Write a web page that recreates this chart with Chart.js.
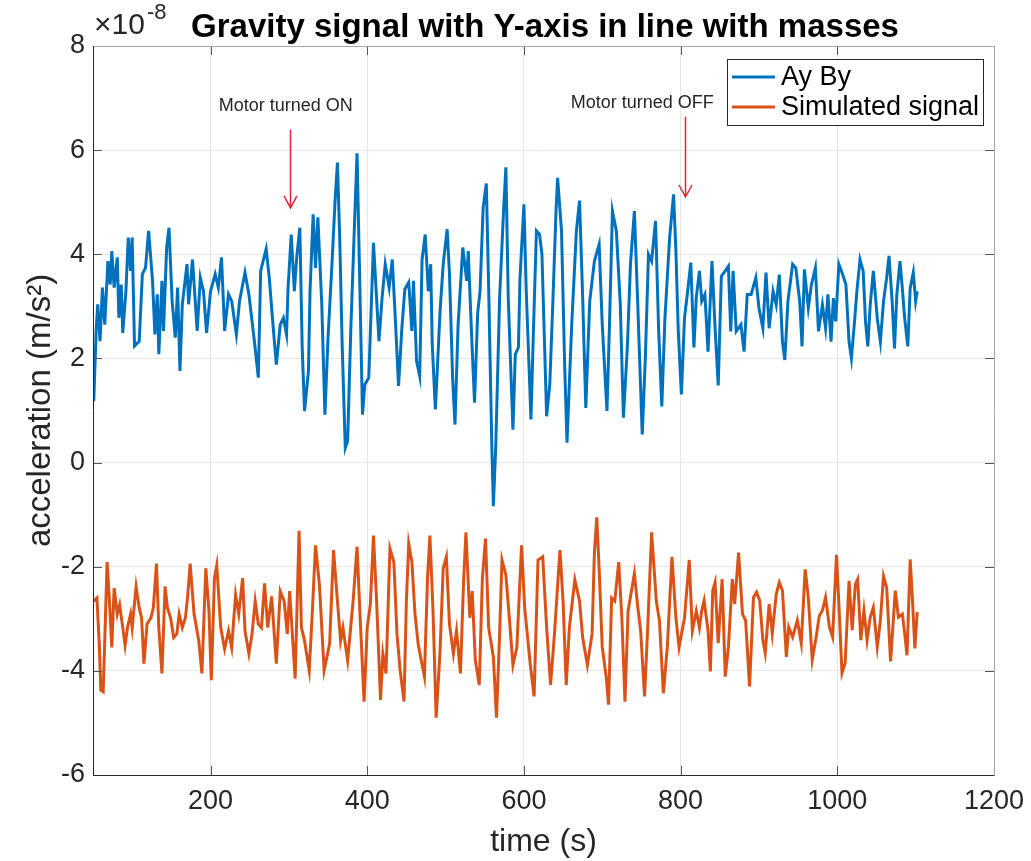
<!DOCTYPE html>
<html>
<head>
<meta charset="utf-8">
<script src="https://cdn.jsdelivr.net/npm/chart.js@4"></script>
<style>
  html, body { margin: 0; padding: 0; background: #fff; }
</style>
</head>
<body>
<canvas id="c" width="1031" height="861"></canvas>
<script>
// values are in units of 1e-8 m/s^2
const blueTime = [51,54,56,59,62,65,69,72,74,77,81,83,86,88,92,95,98,100,103,109,113,117,121,126,129,132,134,138,140,144,147,151,155,158,161,164,170,172,177,183,187,191,195,200,206,210,214,218,223,227,233,237,244,249,256,261,264,271,275,279,284,289,293,297,299,303,307,310,314,317,320,325,327,331,334,337,342,346,350,355,359,362,365,368,372,375,379,383,387,390,394,397,402,408,415,
  419,423,428,432,436,440,444,448,453,457,459,463,467,470,474,478,481,483,487,493,497,502,505,509,512,516,522,527,529,533,537,541,544,548,552,555,559,561,564,569,574,577,580,586,589,593,595,600,603,609,612,616,620,623,629,633,637,641,643,648,652,655,661,667,671,675,679,684,690,696,700,706,709,713,718,723,727,732,736,741,745,751,755,759,763,768,772,776,780,786,791,794,797,801,805,809,813,817,820,824,
  827,831,835,840,844,848,852,857,861,864,867,871,877,881,885,890,896,900,905,909,913,918,922,926,930,933,937,943,947,952,955,958,963,967,972,976,981,985,988,992,995,998,1002,1006,1011,1015,1018,1022,1025,1029,1033,1036,1039,1042,1046,1051,1055,1059,1063,1066,1070,1073,1076,1080,1083,1086,1090,1093,1097,1100,1102];
const blueValue = [1.18,2.53,3.04,2.33,3.36,2.65,3.87,3.42,4.06,3.36,3.94,2.78,3.42,2.49,3.29,4.32,3.68,4.32,2.24,2.33,3.62,3.74,4.45,3.49,2.46,3.23,2.08,3.49,2.53,4.13,4.51,3.10,2.40,3.36,1.76,3.04,3.81,3.04,3.90,2.53,3.55,3.29,2.49,3.29,3.62,3.36,3.94,2.53,3.23,3.10,2.46,3.10,3.65,3.23,2.33,1.63,3.68,4.10,3.55,2.78,1.88,2.65,2.78,2.46,3.36,4.38,3.29,3.94,4.51,2.21,0.99,1.76,3.29,4.77,3.74,4.71,3.04,0.92,2.40,3.81,5.03,5.76,4.26,2.27,0.28,0.41,2.53,4.26,5.94,3.81,0.92,1.50,1.63,4.22,2.33,
  3.17,3.81,3.36,3.90,2.72,1.47,2.53,3.33,3.46,2.53,3.49,1.95,1.66,3.90,4.38,3.29,3.81,2.27,1.02,2.91,3.81,4.48,3.62,1.63,0.73,2.65,4.13,3.49,4.06,2.53,1.15,2.88,3.29,4.90,5.36,3.36,0.35,-0.84,0.28,3.17,4.83,5.67,3.17,0.63,2.08,2.21,3.55,4.96,3.29,0.83,2.46,4.45,4.38,4.00,0.89,1.50,3.10,4.83,5.47,4.45,1.88,0.38,2.65,4.45,5.03,3.17,1.05,3.10,3.87,4.19,2.65,0.99,2.53,4.83,4.45,3.04,0.86,2.21,3.81,4.83,3.17,0.54,2.01,4.00,3.87,4.64,2.53,1.08,2.78,4.32,5.15,4.06,2.53,1.31,2.78,3.29,3.84,2.21,3.17,3.68,
  3.10,3.23,2.13,3.87,2.58,1.48,3.58,3.68,3.77,2.52,3.68,2.52,2.65,2.13,3.23,3.23,3.55,2.97,2.58,3.65,2.58,3.29,3.03,3.61,2.32,1.97,3.10,3.81,3.74,3.10,2.23,3.71,2.97,3.42,3.74,2.52,3.03,2.58,3.23,2.32,3.16,2.71,3.81,3.65,3.42,2.32,2.00,2.71,3.29,3.90,3.68,2.71,2.23,3.03,3.68,2.77,2.32,3.10,3.55,3.97,3.10,2.19,3.23,3.87,3.35,2.77,2.23,3.35,3.65,3.10,3.29];

const simTime = [51,55,58,60,63,65,68,71,74,77,81,84,88,91,94,98,100,105,109,112,115,119,124,127,131,134,138,142,145,149,153,157,160,164,168,171,174,179,185,189,194,198,201,205,208,213,218,223,227,232,236,241,244,249,253,257,261,265,269,273,278,284,289,294,298,301,308,313,316,320,326,330,334,339,345,352,357,362,366,369,375,382,387,391,396,400,404,408,412,417,420,424,429,434,438,
  442,447,450,453,457,461,465,469,473,477,480,484,488,493,497,501,505,510,514,519,523,526,531,534,538,543,547,551,555,561,565,569,572,577,582,586,591,597,601,608,613,618,624,629,634,639,646,650,654,658,665,671,675,681,687,690,693,696,700,705,708,712,716,721,725,729,733,741,745,749,754,758,763,769,773,778,783,789,794,798,805,811,815,820,824,
  827,830,835,838,841,844,848,853,857,861,866,869,874,879,883,888,893,897,901,905,908,913,917,922,926,930,935,938,943,949,954,959,963,968,973,977,981,985,990,994,999,1002,1006,1010,1015,1019,1023,1026,1030,1034,1038,1042,1046,1051,1055,1059,1063,1068,1074,1078,1083,1086,1089,1093,1096,1099,1102];
const simValue = [-2.66,-2.60,-3.48,-4.37,-4.40,-3.42,-1.91,-2.66,-3.55,-2.41,-2.91,-2.73,-3.17,-3.51,-3.17,-2.91,-3.17,-2.38,-2.79,-2.98,-3.86,-3.10,-2.98,-2.79,-1.94,-3.17,-4.05,-2.38,-2.79,-2.98,-3.36,-3.29,-2.91,-3.17,-2.98,-2.54,-1.94,-2.91,-3.42,-4.05,-2.03,-2.85,-4.18,-2.22,-1.97,-3.17,-3.58,-3.23,-3.55,-2.54,-2.91,-2.22,-3.23,-3.67,-3.29,-2.66,-3.10,-3.17,-2.32,-3.17,-2.57,-3.86,-2.47,-2.66,-3.29,-2.47,-4.15,-1.31,-3.17,-3.42,-3.99,-2.85,-1.59,-2.35,-3.99,-3.48,-1.68,-2.66,-3.42,-3.17,-3.80,-2.66,-1.62,-2.98,-4.59,-3.17,-2.73,-1.40,-2.66,-4.56,-3.67,-4.05,-1.65,-1.91,-3.29,
  -3.99,-4.59,-2.66,-1.56,-1.91,-2.91,-3.48,-3.80,-4.11,-2.22,-1.40,-2.85,-4.90,-3.61,-2.03,-1.81,-3.10,-3.67,-3.23,-4.05,-2.28,-1.34,-2.98,-2.47,-3.80,-4.27,-2.22,-1.46,-3.17,-3.73,-4.90,-3.29,-1.87,-2.16,-3.10,-3.89,-3.55,-1.59,-2.79,-3.86,-4.49,-1.87,-1.81,-3.17,-4.27,-3.29,-1.68,-2.66,-4.27,-3.17,-2.25,-2.66,-3.36,-3.89,-3.29,-1.72,-1.05,-2.03,-3.55,-4.11,-4.65,-2.60,-2.66,-1.91,-2.98,-4.59,-2.85,-2.13,-2.73,-3.23,-4.49,-3.17,-1.34,-2.66,-3.04,-4.43,-3.55,-1.81,-2.98,-3.55,-2.98,-1.87,-3.23,-2.85,-3.17,
  -2.84,-2.65,-3.22,-4.01,-2.46,-2.30,-3.47,-2.24,-4.11,-3.54,-2.24,-2.72,-1.73,-2.91,-3.03,-4.30,-2.59,-2.49,-2.65,-3.41,-3.66,-2.72,-3.28,-2.53,-2.30,-2.46,-3.73,-3.16,-3.35,-3.03,-3.47,-2.05,-2.59,-3.79,-3.35,-2.94,-2.84,-2.59,-3.16,-3.35,-1.77,-2.72,-4.04,-3.85,-2.27,-3.22,-2.34,-2.24,-3.41,-2.84,-3.41,-2.97,-2.78,-3.54,-3.03,-2.18,-2.40,-3.82,-2.46,-2.97,-2.91,-3.28,-3.70,-1.86,-2.65,-3.57,-2.87];

const xTicks = [200, 400, 600, 800, 1000, 1200];
const yTicks = [-6, -4, -2, 0, 2, 4, 6, 8];

const seriesNames = ['Ay By', 'Simulated signal'];
const seriesColors = ['#0072BD', '#D95319'];

// notes: [label, text x (s), text y, arrow x, arrow top, arrow tip]
const notes = [
  ['Motor turned ON', 296, 6.85, 301, 6.39, 4.89],
  ['Motor turned OFF', 751, 6.90, 806, 6.64, 5.10]
];

const FONT = "'Liberation Sans', Arial, Helvetica, sans-serif";
const INK = '#262626';

const decor = {
  id: 'decor',
  afterDatasetsDraw(chart) {
    const { ctx, chartArea: a, scales: { x, y } } = chart;
    ctx.save();

    // inward tick marks on all four sides
    ctx.lineWidth = 1;
    ctx.strokeStyle = '#555';
    const tl = 9;
    ctx.beginPath();
    xTicks.forEach(v => {
      const px = Math.round(x.getPixelForValue(v)) + 0.5;
      ctx.moveTo(px, a.bottom); ctx.lineTo(px, a.bottom - tl);
      ctx.moveTo(px, a.top); ctx.lineTo(px, a.top + tl);
    });
    yTicks.forEach(v => {
      const py = Math.round(y.getPixelForValue(v)) + 0.5;
      ctx.moveTo(a.left, py); ctx.lineTo(a.left + tl, py);
      ctx.moveTo(a.right, py); ctx.lineTo(a.right - tl, py);
    });
    ctx.stroke();

    // box: top/right lighter, left/bottom dark
    ctx.strokeStyle = '#a6a6a6';
    ctx.beginPath();
    ctx.moveTo(a.left, a.top + 0.5); ctx.lineTo(a.right + 0.5, a.top + 0.5);
    ctx.lineTo(a.right + 0.5, a.bottom);
    ctx.stroke();
    ctx.strokeStyle = INK;
    ctx.beginPath();
    ctx.moveTo(a.left + 0.5, a.top); ctx.lineTo(a.left + 0.5, a.bottom + 0.5);
    ctx.lineTo(a.right + 0.5, a.bottom + 0.5);
    ctx.stroke();

    // annotations with red arrows
    notes.forEach(([label, tx, ty, ax, ay0, ay1]) => {
      ctx.fillStyle = INK;
      ctx.font = `18px ${FONT}`;
      ctx.textAlign = 'center';
      ctx.textBaseline = 'middle';
      ctx.fillText(label, x.getPixelForValue(tx), y.getPixelForValue(ty));
      const px = Math.round(x.getPixelForValue(ax)) + 0.5;
      const top = y.getPixelForValue(ay0);
      const tip = y.getPixelForValue(ay1);
      ctx.strokeStyle = '#e0283c';
      ctx.lineWidth = 1.5;
      ctx.beginPath();
      ctx.moveTo(px, top); ctx.lineTo(px, tip);
      ctx.moveTo(px - 6.5, tip - 12); ctx.lineTo(px, tip); ctx.lineTo(px + 6.5, tip - 12);
      ctx.stroke();
    });

    // legend
    const lx = 727, ly = 59, lw = 256, lh = 66;
    ctx.fillStyle = '#fff';
    ctx.fillRect(lx, ly, lw, lh);
    ctx.strokeStyle = INK;
    ctx.lineWidth = 1;
    ctx.strokeRect(lx + 0.5, ly + 0.5, lw, lh);
    const rows = [77, 107];
    seriesNames.forEach((name, i) => {
      ctx.strokeStyle = seriesColors[i];
      ctx.lineWidth = 3;
      ctx.beginPath();
      ctx.moveTo(732, rows[i]); ctx.lineTo(775, rows[i]);
      ctx.stroke();
      ctx.fillStyle = '#000';
      ctx.font = `27px ${FONT}`;
      ctx.textAlign = 'left';
      ctx.textBaseline = 'middle';
      ctx.fillText(name, 781, rows[i] + 1);
    });

    ctx.restore();
  },
  afterDraw(chart) {
    const { ctx } = chart;
    ctx.save();
    ctx.fillStyle = '#000';
    ctx.font = `bold 33px ${FONT}`;
    ctx.textAlign = 'center';
    ctx.textBaseline = 'alphabetic';
    ctx.fillText('Gravity signal with Y-axis in line with masses', 545, 37);

    // exponent label
    ctx.fillStyle = INK;
    ctx.textAlign = 'left';
    ctx.font = `30px ${FONT}`;
    ctx.fillText('\u00d710', 94, 34);
    const w = ctx.measureText('\u00d710').width;
    ctx.font = `22px ${FONT}`;
    ctx.fillText('-8', 94 + w + 2, 19);
    ctx.restore();
  }
};

new Chart(document.getElementById('c'), {
  type: 'line',
  data: {
    datasets: [
      {
        label: seriesNames[0],
        data: blueTime.map((t, i) => ({ x: t, y: blueValue[i] })),
        borderColor: seriesColors[0],
        borderWidth: 3,
        pointRadius: 0,
        tension: 0
      },
      {
        label: seriesNames[1],
        data: simTime.map((t, i) => ({ x: t, y: simValue[i] })),
        borderColor: seriesColors[1],
        borderWidth: 3,
        pointRadius: 0,
        tension: 0
      }
    ]
  },
  options: {
    responsive: false,
    animation: false,
    devicePixelRatio: 1,
    layout: { padding: { top: 46, right: 37, left: 0, bottom: 0 } },
    plugins: {
      legend: { display: false },
      tooltip: { enabled: false }
    },
    scales: {
      x: {
        type: 'linear',
        min: 50,
        max: 1200,
        afterBuildTicks: (scale) => { scale.ticks = xTicks.map(v => ({ value: v })) },
        afterFit: (scale) => {
          scale.height = 86
          scale.paddingRight = 0
          scale.paddingLeft = 0
        },
        grid: { color: '#e6e6e6', drawTicks: false },
        border: { display: false },
        ticks: {
          color: INK,
          padding: 10,
          maxRotation: 0,
          callback: v => String(v),
          font: { family: FONT, size: 27 }
        },
        title: {
          display: true,
          text: 'time (s)',
          color: INK,
          padding: { top: 0, bottom: 0 },
          font: { family: FONT, size: 32 }
        }
      },
      y: {
        min: -6,
        max: 8,
        afterBuildTicks: (scale) => { scale.ticks = yTicks.map(v => ({ value: v })) },
        afterFit: (scale) => { scale.width = 93 },
        grid: { color: '#e6e6e6', drawTicks: false },
        border: { display: false },
        ticks: {
          color: INK,
          padding: 8,
          callback: v => String(v),
          font: { family: FONT, size: 27 }
        },
        title: {
          display: true,
          text: 'acceleration (m/s\u00b2)',
          color: INK,
          padding: { top: 21, bottom: 0 },
          font: { family: FONT, size: 33 }
        }
      }
    }
  },
  plugins: [decor]
});
</script>
</body>
</html>
